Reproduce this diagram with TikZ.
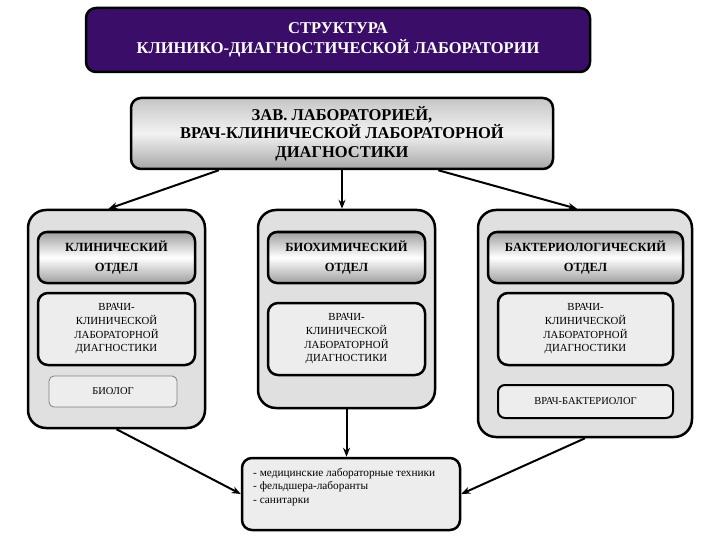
\documentclass[tikz,border=0pt]{standalone}
\usepackage{fontspec}
\setmainfont{Liberation Serif}
\usetikzlibrary{arrows.meta}
\definecolor{purp}{HTML}{3A0E68}
\definecolor{marble}{HTML}{E0E0E0}
\definecolor{inner}{HTML}{EDEDED}
\begin{document}
\begin{tikzpicture}[x=1pt,y=-1pt,
  titlebox/.style={draw=black, line width=2.5pt, rounded corners=10pt, fill=purp,
    text=white, font=\bfseries\fontsize{16.5}{20}\selectfont, align=center},
  headbox/.style={draw=black, line width=2.5pt, rounded corners=10pt,
    top color=gray!45, bottom color=gray!70, middle color=gray!10,
    font=\bfseries\fontsize{16.5}{18.5}\selectfont, align=center},
  outerbox/.style={draw=black, line width=2.5pt, rounded corners=18pt, fill=marble},
  depthead/.style={draw=black, line width=2.5pt, rounded corners=9pt,
    top color=gray!75, bottom color=gray!75, middle color=white,
    font=\bfseries\fontsize{12.5}{20}\selectfont, align=center},
  docbox/.style={draw=black, line width=2.5pt, rounded corners=10pt, fill=inner,
    font=\fontsize{10.8}{13.7}\selectfont, align=center},
  smallbox/.style={draw=black, line width=2pt, rounded corners=7pt, fill=inner,
    font=\fontsize{10.5}{12}\selectfont, align=center},
  thinbox/.style={draw=gray, line width=0.8pt, rounded corners=5pt, fill=inner,
    font=\fontsize{10.5}{12}\selectfont, align=center},
  botbox/.style={draw=black, line width=2.5pt, rounded corners=10pt, fill=inner},
  bottext/.style={font=\fontsize{11.3}{13.5}\selectfont, align=left, anchor=north west, inner sep=0pt},
  arr/.style={line width=2pt, -{Stealth[length=9pt,width=7pt]}}
]
\useasboundingbox (0,0) rectangle (720,540);
\fill[white] (0,0) rectangle (720,540);

\node[titlebox, minimum width=504pt, minimum height=64pt] (title) at (338,40)
  {СТРУКТУРА\\КЛИНИКО-ДИАГНОСТИЧЕСКОЙ ЛАБОРАТОРИИ};

\node[headbox, minimum width=422pt, minimum height=71pt] (head) at (342,133.5)
  {ЗАВ. ЛАБОРАТОРИЕЙ,\\ВРАЧ-КЛИНИЧЕСКОЙ ЛАБОРАТОРНОЙ\\ДИАГНОСТИКИ};

% left department
\node[outerbox, minimum width=177pt, minimum height=218pt] (lout) at (116.5,319) {};
\node[depthead, minimum width=157pt, minimum height=51pt] (lhead) at (116.5,257.5)
  {КЛИНИЧЕСКИЙ\\ОТДЕЛ};
\node[docbox, minimum width=157pt, minimum height=72pt] (ldoc) at (116.5,329)
  {ВРАЧИ-\\КЛИНИЧЕСКОЙ\\ЛАБОРАТОРНОЙ\\ДИАГНОСТИКИ};
\node[thinbox, minimum width=128pt, minimum height=31pt] (lbio) at (113,391.5)
  {БИОЛОГ};

% middle department
\node[outerbox, minimum width=177pt, minimum height=198pt] (mout) at (346.5,309) {};
\node[depthead, minimum width=157pt, minimum height=51pt] (mhead) at (346.5,257.5)
  {БИОХИМИЧЕСКИЙ\\ОТДЕЛ};
\node[docbox, minimum width=157pt, minimum height=72pt] (mdoc) at (346.5,339)
  {ВРАЧИ-\\КЛИНИЧЕСКОЙ\\ЛАБОРАТОРНОЙ\\ДИАГНОСТИКИ};

% right department
\node[outerbox, minimum width=214pt, minimum height=227pt] (rout) at (585,323.5) {};
\node[depthead, minimum width=195pt, minimum height=51pt] (rhead) at (585.5,257.5)
  {БАКТЕРИОЛОГИЧЕСКИЙ\\ОТДЕЛ};
\node[docbox, minimum width=175pt, minimum height=72pt] (rdoc) at (585.5,329)
  {ВРАЧИ-\\КЛИНИЧЕСКОЙ\\ЛАБОРАТОРНОЙ\\ДИАГНОСТИКИ};
\node[smallbox, minimum width=175pt, minimum height=33pt] (rbac) at (585.5,401.5)
  {ВРАЧ-БАКТЕРИОЛОГ};

% bottom
\node[botbox, minimum width=218pt, minimum height=72pt] (bot) at (351,494) {};
\node[bottext] (botxt) at (253,468)
  {- медицинские лабораторные техники\\- фельдшера-лаборанты\\- санитарки};

% connectors
\draw[arr] ([xshift=89pt]head.south west) -- ([xshift=-8pt]lout.north);
\draw[arr] (head.south) -- (head.south |- mout.north);
\draw[arr] ([xshift=-116pt]head.south east) -- ([xshift=-8pt]rout.north);
\draw[arr] (lout.south) -- (bot.west);
\draw[arr] (mout.south) -- (mout.south |- bot.north);
\draw[arr] (rout.south) -- (bot.east);
\end{tikzpicture}
\end{document}
